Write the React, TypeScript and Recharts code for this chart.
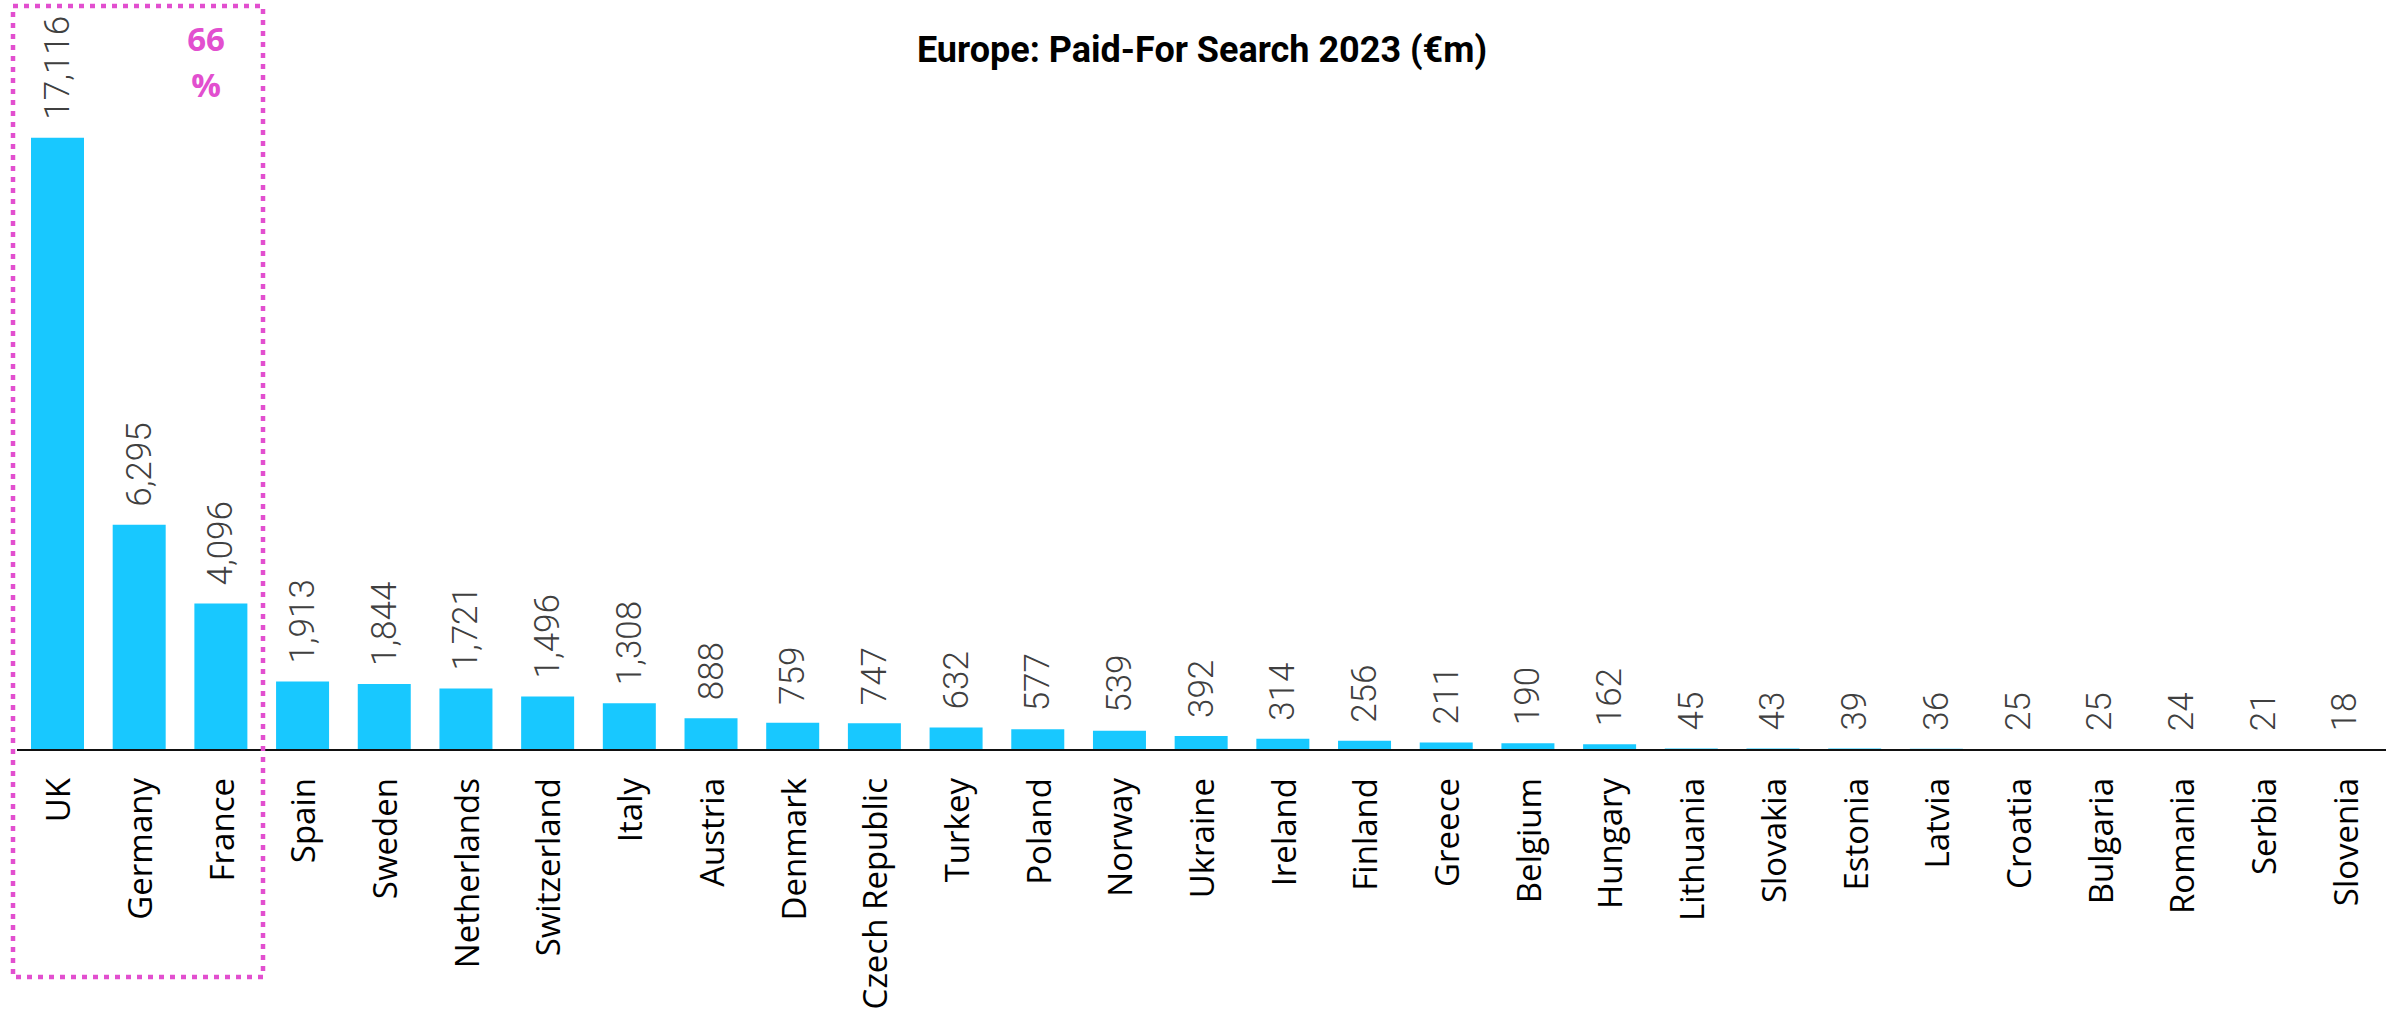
import React from 'react';
import { BarChart, Bar, XAxis, YAxis, LabelList } from 'recharts';

const countries = [
  'UK', 'Germany', 'France', 'Spain', 'Sweden', 'Netherlands', 'Switzerland', 'Italy',
  'Austria', 'Denmark', 'Czech Republic', 'Turkey', 'Poland', 'Norway', 'Ukraine',
  'Ireland', 'Finland', 'Greece', 'Belgium', 'Hungary', 'Lithuania', 'Slovakia',
  'Estonia', 'Latvia', 'Croatia', 'Bulgaria', 'Romania', 'Serbia', 'Slovenia',
];
const spend = [
  17116, 6295, 4096, 1913, 1844, 1721, 1496, 1308, 888, 759, 747, 632, 577, 539, 392,
  314, 256, 211, 190, 162, 45, 43, 39, 36, 25, 25, 24, 21, 18,
];
const yDomain = [0, 18000];
const topShare = ['66', '%'];
const title = 'Europe: Paid-For Search 2023 (€m)';

const W = 2392;
const H = 1013;
const PINK = '#e24fcf';

const data = countries.map((name, i) => ({ name, value: spend[i] }));

const CountryTick = (props: any) => {
  const { x, y, payload } = props;
  return (
    <text
      transform={`translate(${x},${y}) rotate(-90)`}
      textAnchor="end"
      dominantBaseline="central"
      fill="#000"
      fontSize={33}
      fontFamily="'Open Sans', 'DejaVu Sans', sans-serif"
    >
      {payload.value}
    </text>
  );
};

const ValueLabel = (props: any) => {
  const { x, y, width, value } = props;
  const cx = x + width / 2;
  const cy = y - 18;
  return (
    <text
      transform={`translate(${cx},${cy}) rotate(-90)`}
      textAnchor="start"
      dominantBaseline="central"
      fill="#404040"
      fontSize={35}
      fontWeight={300}
      fontFamily="'Liberation Sans Narrow', Roboto, sans-serif"
    >
      {Number(value).toLocaleString('en-US')}
    </text>
  );
};

export default function App() {
  return (
    <div style={{ position: 'absolute', left: 0, top: 0, width: W, height: H, background: '#fff' }}>
      <BarChart
        width={W}
        height={H}
        data={data}
        margin={{ top: 106, right: 6, left: 17, bottom: 0 }}
        barSize={53}
      >
        <XAxis
          dataKey="name"
          interval={0}
          tickLine={false}
          tickSize={0}
          tickMargin={28}
          height={263}
          axisLine={{ stroke: '#111', strokeWidth: 2 }}
          tick={<CountryTick />}
        />
        <YAxis hide domain={yDomain} />
        <Bar dataKey="value" fill="#18c8ff" isAnimationActive={false}>
          <LabelList dataKey="value" content={<ValueLabel />} />
        </Bar>
      </BarChart>

      <div
        style={{
          position: 'absolute',
          left: 1202,
          top: 50,
          transform: 'translate(-50%, -50%)',
          fontFamily: "Roboto, 'Liberation Sans', sans-serif",
          fontWeight: 700,
          fontSize: 36,
          whiteSpace: 'nowrap',
          color: '#000',
        }}
      >
        {title}
      </div>

      <svg
        width={W}
        height={H}
        style={{ position: 'absolute', left: 0, top: 0, pointerEvents: 'none' }}
      >
        <rect
          x={13}
          y={6}
          width={250}
          height={971}
          fill="none"
          stroke={PINK}
          strokeWidth={4.5}
          strokeDasharray="5 6"
        />
        <text
          x={206}
          y={38}
          textAnchor="middle"
          dominantBaseline="central"
          fill={PINK}
          fontSize={33}
          fontWeight={700}
          fontFamily="'Open Sans', sans-serif"
        >
          {topShare[0]}
        </text>
        <text
          x={206}
          y={84}
          textAnchor="middle"
          dominantBaseline="central"
          fill={PINK}
          fontSize={33}
          fontWeight={700}
          fontFamily="'Open Sans', sans-serif"
        >
          {topShare[1]}
        </text>
      </svg>
    </div>
  );
}
